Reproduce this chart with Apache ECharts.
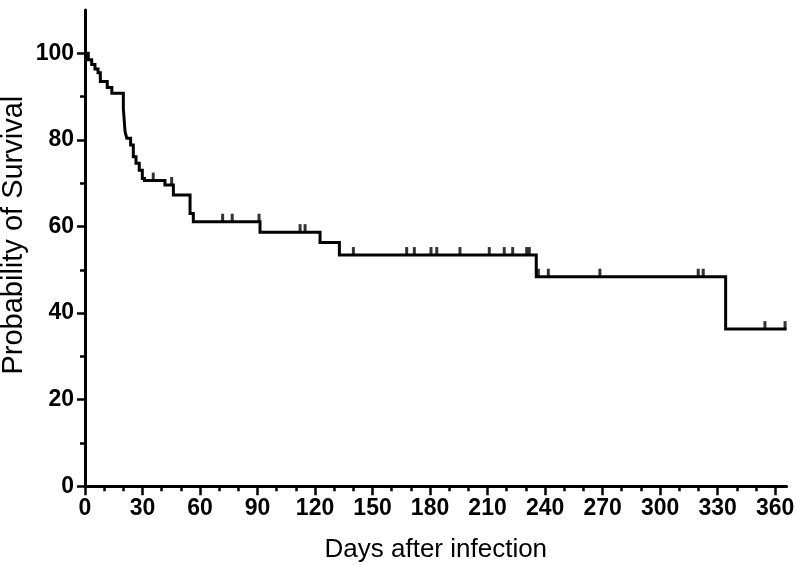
<!DOCTYPE html>
<html>
<head>
<meta charset="utf-8">
<script src="https://cdn.jsdelivr.net/npm/echarts@6/dist/echarts.min.js"></script>
<style>
  html, body { margin: 0; padding: 0; background: #fff; }
  #chart { width: 800px; height: 565px; }
</style>
</head>
<body>
<div id="chart"></div>
<script>
// Kaplan-Meier steps: day of event and survival (%) after it
const eventDays = [0, 1.7, 3.5, 5.2, 6.8, 8, 11.6, 14, 20, 20.9, 21.8, 23.8, 25.2, 26.6, 28.3, 29.9, 31, 41.7, 46.1, 54.8, 56.5, 91.3, 122.6, 132.7, 235.4, 334.2, 366]
const survival = [100, 98.5, 97.4, 96.4, 95.5, 93.5, 92.1, 90.8, 87.3, 81.9, 80.4, 78.8, 76.1, 74.6, 73.0, 71.1, 70.6, 69.6, 67.3, 63.0, 61.1, 58.7, 56.3, 53.4, 48.4, 36.3, 36.3]

// censored observations (tick marks)
const censorDays = [35.6, 45.2, 71.8, 76.8, 90.8, 112.2, 114.8, 140, 167.8, 171.8, 180.5, 183.5, 195.6, 210.9, 218.7, 223.1, 230.4, 231.8, 236.5, 241.7, 268.6, 319.9, 322.5, 354.7, 365.2]

const xMajorTicks = [0, 30, 60, 90, 120, 150, 180, 210, 240, 270, 300, 330, 360]
const xMinorTicks = [10, 20, 40, 50, 70, 80, 100, 110, 130, 140, 160, 170, 190, 200, 220, 230, 250, 260, 280, 290, 310, 320, 340, 350]
const yMajorTicks = [0, 20, 40, 60, 80, 100]
const yMinorTicks = [10, 30, 50, 70, 90]

const FONT = "'Liberation Sans', Arial, sans-serif"

// survival level at a given day (last event at or before it)
function survivalAt(day) {
  let s = survival[0]
  for (let i = 0; i < eventDays.length; i++) {
    if (eventDays[i] <= day) s = survival[i]
  }
  return s
}

const chart = echarts.init(document.getElementById('chart'), null, { renderer: 'canvas' })

const labelStyle = { color: '#000', fontFamily: FONT, fontWeight: 'bold', fontSize: 23 }

chart.setOption({
  animation: false,
  backgroundColor: '#fff',
  grid: { left: 85, right: 13.4, top: 10, bottom: 78.7, outerBoundsMode: 'none' },
  xAxis: [
    {
      type: 'value', min: 0, max: 366, position: 'bottom',
      axisLine: { show: true, lineStyle: { color: '#000', width: 3 } },
      axisTick: { show: true, customValues: xMajorTicks, length: 9, lineStyle: { color: '#000', width: 2.5 } },
      axisLabel: Object.assign({ customValues: xMajorTicks, margin: 11 }, labelStyle),
      splitLine: { show: false },
      name: 'Days after infection', nameLocation: 'middle', nameGap: 51, nameMoveOverlap: false,
      nameTextStyle: { color: '#000', fontFamily: FONT, fontSize: 26 }
    },
    {
      type: 'value', min: 0, max: 366, position: 'bottom',
      axisLine: { show: false },
      axisTick: { show: true, customValues: xMinorTicks, length: 5, lineStyle: { color: '#000', width: 2.5 } },
      axisLabel: { show: false },
      splitLine: { show: false }
    }
  ],
  yAxis: [
    {
      type: 'value', min: 0, max: 110, position: 'left',
      axisLine: { show: true, lineStyle: { color: '#000', width: 3 } },
      axisTick: { show: true, customValues: yMajorTicks, length: 8, lineStyle: { color: '#000', width: 2.5 } },
      axisLabel: Object.assign({ customValues: yMajorTicks, margin: 11 }, labelStyle),
      splitLine: { show: false },
      name: 'Probability of Survival', nameLocation: 'middle', nameGap: 57, nameMoveOverlap: false,
      nameTextStyle: { color: '#000', fontFamily: FONT, fontSize: 29, padding: [0, 0, 0, 26] }
    },
    {
      type: 'value', min: 0, max: 110, position: 'left',
      axisLine: { show: false },
      axisTick: { show: true, customValues: yMinorTicks, length: 5, lineStyle: { color: '#000', width: 2.5 } },
      axisLabel: { show: false },
      splitLine: { show: false }
    }
  ],
  series: [
    {
      type: 'line',
      step: 'end',
      xAxisIndex: 0, yAxisIndex: 0,
      showSymbol: false,
      lineStyle: { color: '#000', width: 3, join: 'miter' },
      data: eventDays.map((d, i) => [d, survival[i]]),
      z: 3
    },
    {
      type: 'scatter',
      xAxisIndex: 0, yAxisIndex: 0,
      symbol: 'rect',
      symbolSize: [3, 8],
      symbolOffset: [0, -4],
      itemStyle: { color: '#000' },
      data: censorDays.map((d) => [d, survivalAt(d)]),
      z: 4
    }
  ]
})
</script>
</body>
</html>
